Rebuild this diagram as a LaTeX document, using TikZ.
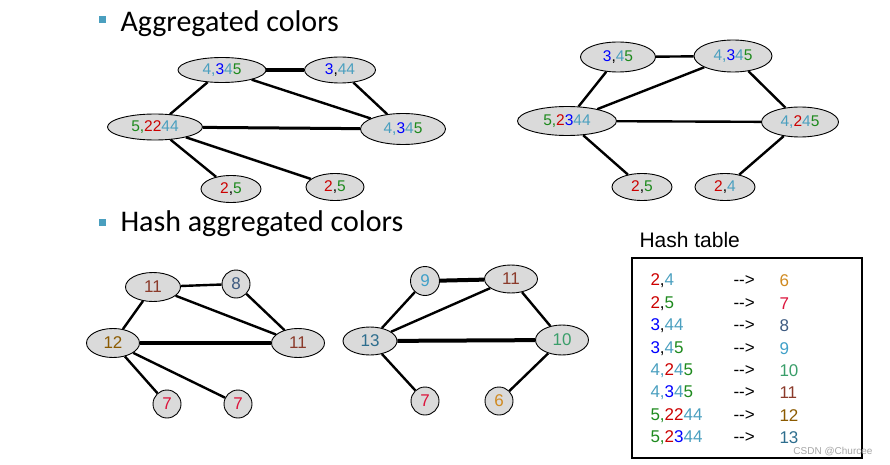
\documentclass[tikz,border=0pt]{standalone}
\usepackage{fontspec}
\setmainfont{Liberation Sans}
\newfontfamily\titlefont{Carlito}
\usetikzlibrary{shapes.geometric}
\definecolor{cR}{HTML}{CC0000}
\definecolor{cG}{HTML}{1E8A1E}
\definecolor{cB}{HTML}{0000FF}
\definecolor{cT}{HTML}{4A9FBF}
\definecolor{h6}{HTML}{D08A20}
\definecolor{h7}{HTML}{DC143C}
\definecolor{h8}{HTML}{3D5A80}
\definecolor{h9}{HTML}{40A0C8}
\definecolor{h10}{HTML}{3A9E6A}
\definecolor{h11}{HTML}{8B3A2A}
\definecolor{h12}{HTML}{8B5A00}
\definecolor{h13}{HTML}{2E6E8E}
\definecolor{nodefill}{HTML}{DADADA}
\newcommand\tR[1]{\textcolor{cR}{#1}}
\newcommand\tG[1]{\textcolor{cG}{#1}}
\newcommand\tB[1]{\textcolor{cB}{#1}}
\newcommand\tT[1]{\textcolor{cT}{#1}}
\begin{document}
\begin{tikzpicture}[x=1pt,y=-1pt,
  el/.style={ellipse,draw,fill=nodefill,line width=0.9pt,inner sep=0pt,font=\fontsize{15.5}{15.5}\selectfont},
  ci/.style={circle,draw,fill=nodefill,line width=0.9pt,inner sep=0pt,minimum size=28pt,font=\fontsize{17}{17}\selectfont},
  big/.style={font=\fontsize{17}{17}\selectfont},
  ed/.style={line width=2.4pt},
  th/.style={line width=4pt},
  bul/.style={fill=cT,minimum size=7pt,inner sep=0pt},
  tt/.style={font=\fontsize{17}{17}\selectfont,anchor=west}]
\useasboundingbox (0,0) rectangle (890,465);
% titles
\node[bul] (b1) at (102,20) {};
\node[anchor=west,font=\titlefont\fontsize{30}{30}\selectfont] (t1) at (117,24) {Aggregated colors};
\node[bul] (b2) at (102,222) {};
\node[anchor=west,font=\titlefont\fontsize{30}{30}\selectfont] (t2) at (117,224) {Hash aggregated colors};
% top-left
\node[el,minimum width=88pt,minimum height=25pt] (a1) at (222,70) {\tT{4,}\tB{3}\tT{4}\tG{5}};
\node[el,minimum width=71pt,minimum height=26pt] (a2) at (340,70) {\tB{3},\tT{44}};
\node[el,minimum width=95pt,minimum height=26pt] (a3) at (155,127) {\tG{5,}\tR{22}\tT{44}};
\node[el,minimum width=85pt,minimum height=31pt] (a4) at (403,129) {\tT{4,}\tB{3}\tT{4}\tG{5}};
\node[el,minimum width=60pt,minimum height=27pt] (a5) at (231,189) {\tR{2},\tG{5}};
\node[el,minimum width=58pt,minimum height=27pt] (a6) at (335,187) {\tR{2},\tG{5}};
\draw[th] (a1) -- (a2);
\draw[ed] (a1) -- (a4);
\draw[ed] (a2) -- (a4);
\draw[ed] (a1) -- (a3);
\draw[line width=3pt] (a3) -- (a4);
\draw[ed] (a3) -- (a5);
\draw[ed] (a3) -- (a6);
% top-right
\node[el,minimum width=75pt,minimum height=30pt] (b1n) at (618,57) {\tB{3},\tT{4}\tG{5}};
\node[el,minimum width=78pt,minimum height=32pt] (b2n) at (733,56) {\tT{4,}\tB{3}\tT{4}\tG{5}};
\node[el,minimum width=99pt,minimum height=29pt] (b3n) at (567,121) {\tG{5,}\tR{2}\tB{3}\tT{44}};
\node[el,minimum width=77pt,minimum height=30pt] (b4n) at (800,122) {\tT{4,}\tR{2}\tT{4}\tG{5}};
\node[el,minimum width=60pt,minimum height=27pt] (b5n) at (642,187) {\tR{2},\tG{5}};
\node[el,minimum width=60pt,minimum height=27pt] (b6n) at (725,187) {\tR{2},\tT{4}};
\draw[ed] (b1n) -- (b2n);
\draw[ed] (b1n) -- (b3n);
\draw[ed] (b2n) -- (b3n);
\draw[ed] (b2n) -- (b4n);
\draw[ed] (b3n) -- (b4n);
\draw[ed] (b3n) -- (b5n);
\draw[ed] (b4n) -- (b6n);
% bottom-left
\node[el,big,minimum width=55pt,minimum height=29pt] (c1) at (153,287) {\textcolor{h11}{11}};
\node[ci] (c2) at (236,284) {\textcolor{h8}{8}};
\node[el,big,minimum width=53pt,minimum height=29pt] (c3) at (113,343) {\textcolor{h12}{12}};
\node[el,big,minimum width=53pt,minimum height=29pt] (c4) at (298,343) {\textcolor{h11}{11}};
\node[ci] (c5) at (167,404) {\textcolor{h7}{7}};
\node[ci] (c6) at (238,404) {\textcolor{h7}{7}};
\draw[ed] (c1) -- (c2);
\draw[ed] (c1) -- (c3);
\draw[ed] (c1) -- (c4);
\draw[ed] (c2) -- (c4);
\draw[th] (c3) -- (c4);
\draw[ed] (c3) -- (c5);
\draw[ed] (c3) -- (c6);
% bottom-middle
\node[ci,minimum size=29pt] (d1) at (425,281) {\textcolor{h9}{9}};
\node[el,big,minimum width=53pt,minimum height=28pt] (d2) at (511,279) {\textcolor{h11}{11}};
\node[el,big,minimum width=54pt,minimum height=28pt] (d3) at (370,341) {\textcolor{h13}{13}};
\node[el,big,minimum width=53pt,minimum height=30pt] (d4) at (562,340) {\textcolor{h10}{10}};
\node[ci] (d5) at (425,401) {\textcolor{h7}{7}};
\node[ci] (d6) at (499,401) {\textcolor{h6}{6}};
\draw[th] (d1) -- (d2);
\draw[ed] (d1) -- (d3);
\draw[ed] (d2) -- (d3);
\draw[ed] (d2) -- (d4);
\draw[th] (d3) -- (d4);
\draw[ed] (d3) -- (d5);
\draw[ed] (d4) -- (d6);
% hash table
\node[anchor=west,font=\fontsize{21}{21}\selectfont] (ht) at (636,240) {Hash table};
\node[draw,line width=1.6pt,minimum width=230pt,minimum height=200pt,inner sep=0pt] (box) at (747,358) {};
\foreach \k/\v/\c [count=\i from 0] in {
 {\tR{2},\tT{4}}/6/h6, {\tR{2},\tG{5}}/7/h7, {\tB{3},\tT{44}}/8/h8, {\tB{3},\tT{4}\tG{5}}/9/h9,
 {\tT{4,}\tR{2}\tT{4}\tG{5}}/10/h10, {\tT{4,}\tB{3}\tT{4}\tG{5}}/11/h11,
 {\tG{5,}\tR{22}\tT{44}}/12/h12, {\tG{5,}\tR{2}\tB{3}\tT{44}}/13/h13}{
  \node[tt] (k\i) at (647,{281+22.4*\i}) {\k};
  \node[tt] (r\i) at (730,{281+22.4*\i}) {-{}-{}>};
  \node[tt] (v\i) at (776,{281+22.4*\i}) {\textcolor{\c}{\v}};
}
\node[anchor=east,font=\fontsize{10}{10}\selectfont,text=gray!70] (wm) at (876,452) {CSDN @Churcee};
\end{tikzpicture}
\end{document}
